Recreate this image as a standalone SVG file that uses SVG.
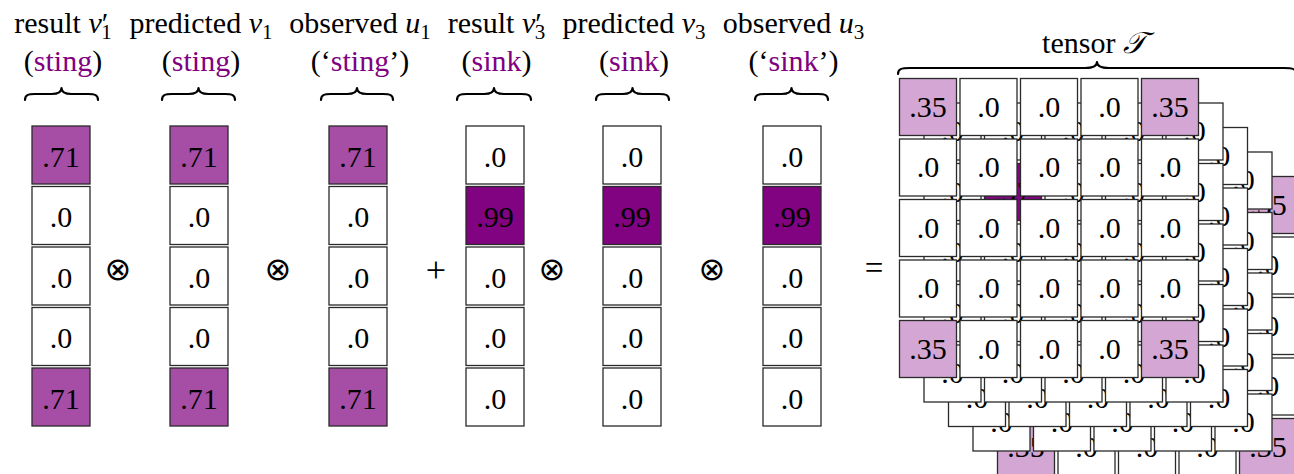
<svg xmlns="http://www.w3.org/2000/svg" width="1294" height="474" viewBox="0 0 1294 474">
<style>
text{font-family:"Liberation Serif","Times New Roman",serif;fill:#000}
.lbl{font-size:30px;text-anchor:middle}
.pu{fill:#800080}
.it{font-style:italic}
.sb{font-size:21px}
.cv{font-size:30px;text-anchor:middle}
.tv{font-size:30px;text-anchor:middle}
.pl{font-size:36px;text-anchor:middle}
.eq{font-size:33px;text-anchor:middle}
.ot{font-family:"DejaVu Sans",sans-serif;font-size:32px;text-anchor:middle}
rect{stroke:#2a2a2a;stroke-width:1.3}
.w{fill:#fff}
.p71{fill:#A64DA6}
.p99{fill:#810381}
.p97{fill:#840884}
.p35{fill:#D3A6D3}
.br{fill:none;stroke:#000;stroke-width:2.2;stroke-linecap:round;stroke-linejoin:round}
</style>

<g id="labels">
<g id="label-v1p">
<text class="lbl" x="63" y="33">result <tspan class="it">v</tspan><tspan>′</tspan><tspan class="sb" dx="-7" dy="6">1</tspan></text>
<text class="lbl" x="63" y="71">(<tspan class="pu">sting</tspan>)</text>
<path class="br" d="M25 100 C25 95 28 94 35 94 L51.5 94 C58.5 94 61.5 92 61.5 88 C61.5 92 64.5 94 71.5 94 L88 94 C95 94 98 95 98 100"/>
</g>
<g id="label-v1">
<text class="lbl" x="201" y="33">predicted <tspan class="it">v</tspan><tspan class="sb" dy="6">1</tspan></text>
<text class="lbl" x="201" y="71">(<tspan class="pu">sting</tspan>)</text>
<path class="br" d="M162 100 C162 95 165 94 172 94 L188.5 94 C195.5 94 198.5 92 198.5 88 C198.5 92 201.5 94 208.5 94 L225 94 C232 94 235 95 235 100"/>
</g>
<g id="label-u1">
<text class="lbl" x="360" y="33">observed <tspan class="it">u</tspan><tspan class="sb" dy="6">1</tspan></text>
<text class="lbl" x="360" y="71">(‘<tspan class="pu">sting</tspan>’)</text>
<path class="br" d="M321 100 C321 95 324 94 331 94 L347 94 C354 94 357 92 357 88 C357 92 360 94 367 94 L383 94 C390 94 393 95 393 100"/>
</g>
<g id="label-v3p">
<text class="lbl" x="496.5" y="33">result <tspan class="it">v</tspan><tspan>′</tspan><tspan class="sb" dx="-7" dy="6">3</tspan></text>
<text class="lbl" x="496.5" y="71">(<tspan class="pu">sink</tspan>)</text>
<path class="br" d="M457 100 C457 95 460 94 467 94 L484 94 C491 94 494 92 494 88 C494 92 497 94 504 94 L521 94 C528 94 531 95 531 100"/>
</g>
<g id="label-v3">
<text class="lbl" x="634" y="33">predicted <tspan class="it">v</tspan><tspan class="sb" dy="6">3</tspan></text>
<text class="lbl" x="634" y="71">(<tspan class="pu">sink</tspan>)</text>
<path class="br" d="M596 100 C596 95 599 94 606 94 L622.5 94 C629.5 94 632.5 92 632.5 88 C632.5 92 635.5 94 642.5 94 L659 94 C666 94 669 95 669 100"/>
</g>
<g id="label-u3">
<text class="lbl" x="793.5" y="33">observed <tspan class="it">u</tspan><tspan class="sb" dy="6">3</tspan></text>
<text class="lbl" x="793.5" y="71">(‘<tspan class="pu">sink</tspan>’)</text>
<path class="br" d="M755 100 C755 95 758 94 765 94 L781.5 94 C788.5 94 791.5 92 791.5 88 C791.5 92 794.5 94 801.5 94 L818 94 C825 94 828 95 828 100"/>
</g>
<g id="label-tensor">
<text class="lbl" x="1094" y="53">tensor <tspan class="it">𝒯</tspan></text>
<path class="br" d="M898 74 C898 69 901 68 910 68 L1085 68 C1093 68 1097 66 1097 62 C1097 66 1101 68 1109 68 L1284 68 C1293 68 1296 69 1296 74"/>
</g>
</g>

<g id="col-v1p">
<rect class="p71" x="32" y="126" width="58" height="58"/><text class="cv" x="61" y="166.5">.71</text>
<rect class="w" x="32" y="186.5" width="58" height="58"/><text class="cv" x="61" y="227">.0</text>
<rect class="w" x="32" y="247" width="58" height="58"/><text class="cv" x="61" y="287.5">.0</text>
<rect class="w" x="32" y="307.5" width="58" height="58"/><text class="cv" x="61" y="348">.0</text>
<rect class="p71" x="32" y="368" width="58" height="58"/><text class="cv" x="61" y="408.5">.71</text>
</g>
<g id="col-v1">
<rect class="p71" x="170" y="126" width="58" height="58"/><text class="cv" x="199" y="166.5">.71</text>
<rect class="w" x="170" y="186.5" width="58" height="58"/><text class="cv" x="199" y="227">.0</text>
<rect class="w" x="170" y="247" width="58" height="58"/><text class="cv" x="199" y="287.5">.0</text>
<rect class="w" x="170" y="307.5" width="58" height="58"/><text class="cv" x="199" y="348">.0</text>
<rect class="p71" x="170" y="368" width="58" height="58"/><text class="cv" x="199" y="408.5">.71</text>
</g>
<g id="col-u1">
<rect class="p71" x="329" y="126" width="58" height="58"/><text class="cv" x="358" y="166.5">.71</text>
<rect class="w" x="329" y="186.5" width="58" height="58"/><text class="cv" x="358" y="227">.0</text>
<rect class="w" x="329" y="247" width="58" height="58"/><text class="cv" x="358" y="287.5">.0</text>
<rect class="w" x="329" y="307.5" width="58" height="58"/><text class="cv" x="358" y="348">.0</text>
<rect class="p71" x="329" y="368" width="58" height="58"/><text class="cv" x="358" y="408.5">.71</text>
</g>
<g id="col-v3p">
<rect class="w" x="466" y="126" width="58" height="58"/><text class="cv" x="495" y="166.5">.0</text>
<rect class="p99" x="466" y="186.5" width="58" height="58"/><text class="cv" x="495" y="227">.99</text>
<rect class="w" x="466" y="247" width="58" height="58"/><text class="cv" x="495" y="287.5">.0</text>
<rect class="w" x="466" y="307.5" width="58" height="58"/><text class="cv" x="495" y="348">.0</text>
<rect class="w" x="466" y="368" width="58" height="58"/><text class="cv" x="495" y="408.5">.0</text>
</g>
<g id="col-v3">
<rect class="w" x="603" y="126" width="58" height="58"/><text class="cv" x="632" y="166.5">.0</text>
<rect class="p99" x="603" y="186.5" width="58" height="58"/><text class="cv" x="632" y="227">.99</text>
<rect class="w" x="603" y="247" width="58" height="58"/><text class="cv" x="632" y="287.5">.0</text>
<rect class="w" x="603" y="307.5" width="58" height="58"/><text class="cv" x="632" y="348">.0</text>
<rect class="w" x="603" y="368" width="58" height="58"/><text class="cv" x="632" y="408.5">.0</text>
</g>
<g id="col-u3">
<rect class="w" x="763" y="126" width="58" height="58"/><text class="cv" x="792" y="166.5">.0</text>
<rect class="p99" x="763" y="186.5" width="58" height="58"/><text class="cv" x="792" y="227">.99</text>
<rect class="w" x="763" y="247" width="58" height="58"/><text class="cv" x="792" y="287.5">.0</text>
<rect class="w" x="763" y="307.5" width="58" height="58"/><text class="cv" x="792" y="348">.0</text>
<rect class="w" x="763" y="368" width="58" height="58"/><text class="cv" x="792" y="408.5">.0</text>
</g>

<g id="operators">
<text class="ot" x="118" y="280">⊗</text>
<text class="ot" x="278" y="280">⊗</text>
<text class="pl" x="436" y="282">+</text>
<text class="ot" x="552" y="280">⊗</text>
<text class="ot" x="712" y="280">⊗</text>
<text class="eq" x="874" y="279">=</text>
</g>

<g id="connectors"></g>

<g id="tensor">
<g id="layer5" transform="translate(98,98)">
<rect class="p35" x="899.5" y="78.5" width="57" height="57"/><text class="tv" x="928" y="116.5">.35</text>
<rect class="w" x="960" y="78.5" width="57" height="57"/><text class="tv" x="988.5" y="116.5">.0</text>
<rect class="w" x="1020.5" y="78.5" width="57" height="57"/><text class="tv" x="1049" y="116.5">.0</text>
<rect class="w" x="1081" y="78.5" width="57" height="57"/><text class="tv" x="1109.5" y="116.5">.0</text>
<rect class="p35" x="1141.5" y="78.5" width="57" height="57"/><text class="tv" x="1170" y="116.5">.35</text>
<rect class="w" x="899.5" y="139" width="57" height="57"/><text class="tv" x="928" y="177">.0</text>
<rect class="w" x="960" y="139" width="57" height="57"/><text class="tv" x="988.5" y="177">.0</text>
<rect class="w" x="1020.5" y="139" width="57" height="57"/><text class="tv" x="1049" y="177">.0</text>
<rect class="w" x="1081" y="139" width="57" height="57"/><text class="tv" x="1109.5" y="177">.0</text>
<rect class="w" x="1141.5" y="139" width="57" height="57"/><text class="tv" x="1170" y="177">.0</text>
<rect class="w" x="899.5" y="199.5" width="57" height="57"/><text class="tv" x="928" y="237.5">.0</text>
<rect class="w" x="960" y="199.5" width="57" height="57"/><text class="tv" x="988.5" y="237.5">.0</text>
<rect class="w" x="1020.5" y="199.5" width="57" height="57"/><text class="tv" x="1049" y="237.5">.0</text>
<rect class="w" x="1081" y="199.5" width="57" height="57"/><text class="tv" x="1109.5" y="237.5">.0</text>
<rect class="w" x="1141.5" y="199.5" width="57" height="57"/><text class="tv" x="1170" y="237.5">.0</text>
<rect class="w" x="899.5" y="260" width="57" height="57"/><text class="tv" x="928" y="298">.0</text>
<rect class="w" x="960" y="260" width="57" height="57"/><text class="tv" x="988.5" y="298">.0</text>
<rect class="w" x="1020.5" y="260" width="57" height="57"/><text class="tv" x="1049" y="298">.0</text>
<rect class="w" x="1081" y="260" width="57" height="57"/><text class="tv" x="1109.5" y="298">.0</text>
<rect class="w" x="1141.5" y="260" width="57" height="57"/><text class="tv" x="1170" y="298">.0</text>
<rect class="p35" x="899.5" y="320.5" width="57" height="57"/><text class="tv" x="928" y="358.5">.35</text>
<rect class="w" x="960" y="320.5" width="57" height="57"/><text class="tv" x="988.5" y="358.5">.0</text>
<rect class="w" x="1020.5" y="320.5" width="57" height="57"/><text class="tv" x="1049" y="358.5">.0</text>
<rect class="w" x="1081" y="320.5" width="57" height="57"/><text class="tv" x="1109.5" y="358.5">.0</text>
<rect class="p35" x="1141.5" y="320.5" width="57" height="57"/><text class="tv" x="1170" y="358.5">.35</text>
</g>
<g id="layer4" transform="translate(73.5,73.5)">
<rect class="w" x="899.5" y="78.5" width="57" height="57"/><text class="tv" x="928" y="116.5">.0</text>
<rect class="w" x="960" y="78.5" width="57" height="57"/><text class="tv" x="988.5" y="116.5">.0</text>
<rect class="w" x="1020.5" y="78.5" width="57" height="57"/><text class="tv" x="1049" y="116.5">.0</text>
<rect class="w" x="1081" y="78.5" width="57" height="57"/><text class="tv" x="1109.5" y="116.5">.0</text>
<rect class="w" x="1141.5" y="78.5" width="57" height="57"/><text class="tv" x="1170" y="116.5">.0</text>
<rect class="w" x="899.5" y="139" width="57" height="57"/><text class="tv" x="928" y="177">.0</text>
<rect class="w" x="960" y="139" width="57" height="57"/><text class="tv" x="988.5" y="177">.0</text>
<rect class="w" x="1020.5" y="139" width="57" height="57"/><text class="tv" x="1049" y="177">.0</text>
<rect class="w" x="1081" y="139" width="57" height="57"/><text class="tv" x="1109.5" y="177">.0</text>
<rect class="w" x="1141.5" y="139" width="57" height="57"/><text class="tv" x="1170" y="177">.0</text>
<rect class="w" x="899.5" y="199.5" width="57" height="57"/><text class="tv" x="928" y="237.5">.0</text>
<rect class="w" x="960" y="199.5" width="57" height="57"/><text class="tv" x="988.5" y="237.5">.0</text>
<rect class="w" x="1020.5" y="199.5" width="57" height="57"/><text class="tv" x="1049" y="237.5">.0</text>
<rect class="w" x="1081" y="199.5" width="57" height="57"/><text class="tv" x="1109.5" y="237.5">.0</text>
<rect class="w" x="1141.5" y="199.5" width="57" height="57"/><text class="tv" x="1170" y="237.5">.0</text>
<rect class="w" x="899.5" y="260" width="57" height="57"/><text class="tv" x="928" y="298">.0</text>
<rect class="w" x="960" y="260" width="57" height="57"/><text class="tv" x="988.5" y="298">.0</text>
<rect class="w" x="1020.5" y="260" width="57" height="57"/><text class="tv" x="1049" y="298">.0</text>
<rect class="w" x="1081" y="260" width="57" height="57"/><text class="tv" x="1109.5" y="298">.0</text>
<rect class="w" x="1141.5" y="260" width="57" height="57"/><text class="tv" x="1170" y="298">.0</text>
<rect class="w" x="899.5" y="320.5" width="57" height="57"/><text class="tv" x="928" y="358.5">.0</text>
<rect class="w" x="960" y="320.5" width="57" height="57"/><text class="tv" x="988.5" y="358.5">.0</text>
<rect class="w" x="1020.5" y="320.5" width="57" height="57"/><text class="tv" x="1049" y="358.5">.0</text>
<rect class="w" x="1081" y="320.5" width="57" height="57"/><text class="tv" x="1109.5" y="358.5">.0</text>
<rect class="w" x="1141.5" y="320.5" width="57" height="57"/><text class="tv" x="1170" y="358.5">.0</text>
</g>
<g id="layer3" transform="translate(49,49)">
<rect class="w" x="899.5" y="78.5" width="57" height="57"/><text class="tv" x="928" y="116.5">.0</text>
<rect class="w" x="960" y="78.5" width="57" height="57"/><text class="tv" x="988.5" y="116.5">.0</text>
<rect class="w" x="1020.5" y="78.5" width="57" height="57"/><text class="tv" x="1049" y="116.5">.0</text>
<rect class="w" x="1081" y="78.5" width="57" height="57"/><text class="tv" x="1109.5" y="116.5">.0</text>
<rect class="w" x="1141.5" y="78.5" width="57" height="57"/><text class="tv" x="1170" y="116.5">.0</text>
<rect class="w" x="899.5" y="139" width="57" height="57"/><text class="tv" x="928" y="177">.0</text>
<rect class="w" x="960" y="139" width="57" height="57"/><text class="tv" x="988.5" y="177">.0</text>
<rect class="w" x="1020.5" y="139" width="57" height="57"/><text class="tv" x="1049" y="177">.0</text>
<rect class="w" x="1081" y="139" width="57" height="57"/><text class="tv" x="1109.5" y="177">.0</text>
<rect class="w" x="1141.5" y="139" width="57" height="57"/><text class="tv" x="1170" y="177">.0</text>
<rect class="w" x="899.5" y="199.5" width="57" height="57"/><text class="tv" x="928" y="237.5">.0</text>
<rect class="w" x="960" y="199.5" width="57" height="57"/><text class="tv" x="988.5" y="237.5">.0</text>
<rect class="w" x="1020.5" y="199.5" width="57" height="57"/><text class="tv" x="1049" y="237.5">.0</text>
<rect class="w" x="1081" y="199.5" width="57" height="57"/><text class="tv" x="1109.5" y="237.5">.0</text>
<rect class="w" x="1141.5" y="199.5" width="57" height="57"/><text class="tv" x="1170" y="237.5">.0</text>
<rect class="w" x="899.5" y="260" width="57" height="57"/><text class="tv" x="928" y="298">.0</text>
<rect class="w" x="960" y="260" width="57" height="57"/><text class="tv" x="988.5" y="298">.0</text>
<rect class="w" x="1020.5" y="260" width="57" height="57"/><text class="tv" x="1049" y="298">.0</text>
<rect class="w" x="1081" y="260" width="57" height="57"/><text class="tv" x="1109.5" y="298">.0</text>
<rect class="w" x="1141.5" y="260" width="57" height="57"/><text class="tv" x="1170" y="298">.0</text>
<rect class="w" x="899.5" y="320.5" width="57" height="57"/><text class="tv" x="928" y="358.5">.0</text>
<rect class="w" x="960" y="320.5" width="57" height="57"/><text class="tv" x="988.5" y="358.5">.0</text>
<rect class="w" x="1020.5" y="320.5" width="57" height="57"/><text class="tv" x="1049" y="358.5">.0</text>
<rect class="w" x="1081" y="320.5" width="57" height="57"/><text class="tv" x="1109.5" y="358.5">.0</text>
<rect class="w" x="1141.5" y="320.5" width="57" height="57"/><text class="tv" x="1170" y="358.5">.0</text>
</g>
<g id="layer2" transform="translate(24.5,24.5)">
<rect class="w" x="899.5" y="78.5" width="57" height="57"/><text class="tv" x="928" y="116.5">.0</text>
<rect class="w" x="960" y="78.5" width="57" height="57"/><text class="tv" x="988.5" y="116.5">.0</text>
<rect class="w" x="1020.5" y="78.5" width="57" height="57"/><text class="tv" x="1049" y="116.5">.0</text>
<rect class="w" x="1081" y="78.5" width="57" height="57"/><text class="tv" x="1109.5" y="116.5">.0</text>
<rect class="w" x="1141.5" y="78.5" width="57" height="57"/><text class="tv" x="1170" y="116.5">.0</text>
<rect class="w" x="899.5" y="139" width="57" height="57"/><text class="tv" x="928" y="177">.0</text>
<rect class="p97" x="960" y="139" width="57" height="57"/><text class="tv" x="988.5" y="177">.97</text>
<rect class="w" x="1020.5" y="139" width="57" height="57"/><text class="tv" x="1049" y="177">.0</text>
<rect class="w" x="1081" y="139" width="57" height="57"/><text class="tv" x="1109.5" y="177">.0</text>
<rect class="w" x="1141.5" y="139" width="57" height="57"/><text class="tv" x="1170" y="177">.0</text>
<rect class="w" x="899.5" y="199.5" width="57" height="57"/><text class="tv" x="928" y="237.5">.0</text>
<rect class="w" x="960" y="199.5" width="57" height="57"/><text class="tv" x="988.5" y="237.5">.0</text>
<rect class="w" x="1020.5" y="199.5" width="57" height="57"/><text class="tv" x="1049" y="237.5">.0</text>
<rect class="w" x="1081" y="199.5" width="57" height="57"/><text class="tv" x="1109.5" y="237.5">.0</text>
<rect class="w" x="1141.5" y="199.5" width="57" height="57"/><text class="tv" x="1170" y="237.5">.0</text>
<rect class="w" x="899.5" y="260" width="57" height="57"/><text class="tv" x="928" y="298">.0</text>
<rect class="w" x="960" y="260" width="57" height="57"/><text class="tv" x="988.5" y="298">.0</text>
<rect class="w" x="1020.5" y="260" width="57" height="57"/><text class="tv" x="1049" y="298">.0</text>
<rect class="w" x="1081" y="260" width="57" height="57"/><text class="tv" x="1109.5" y="298">.0</text>
<rect class="w" x="1141.5" y="260" width="57" height="57"/><text class="tv" x="1170" y="298">.0</text>
<rect class="w" x="899.5" y="320.5" width="57" height="57"/><text class="tv" x="928" y="358.5">.0</text>
<rect class="w" x="960" y="320.5" width="57" height="57"/><text class="tv" x="988.5" y="358.5">.0</text>
<rect class="w" x="1020.5" y="320.5" width="57" height="57"/><text class="tv" x="1049" y="358.5">.0</text>
<rect class="w" x="1081" y="320.5" width="57" height="57"/><text class="tv" x="1109.5" y="358.5">.0</text>
<rect class="w" x="1141.5" y="320.5" width="57" height="57"/><text class="tv" x="1170" y="358.5">.0</text>
</g>
<g id="layer1">
<rect class="p35" x="899.5" y="78.5" width="57" height="57"/><text class="tv" x="928" y="116.5">.35</text>
<rect class="w" x="960" y="78.5" width="57" height="57"/><text class="tv" x="988.5" y="116.5">.0</text>
<rect class="w" x="1020.5" y="78.5" width="57" height="57"/><text class="tv" x="1049" y="116.5">.0</text>
<rect class="w" x="1081" y="78.5" width="57" height="57"/><text class="tv" x="1109.5" y="116.5">.0</text>
<rect class="p35" x="1141.5" y="78.5" width="57" height="57"/><text class="tv" x="1170" y="116.5">.35</text>
<rect class="w" x="899.5" y="139" width="57" height="57"/><text class="tv" x="928" y="177">.0</text>
<rect class="w" x="960" y="139" width="57" height="57"/><text class="tv" x="988.5" y="177">.0</text>
<rect class="w" x="1020.5" y="139" width="57" height="57"/><text class="tv" x="1049" y="177">.0</text>
<rect class="w" x="1081" y="139" width="57" height="57"/><text class="tv" x="1109.5" y="177">.0</text>
<rect class="w" x="1141.5" y="139" width="57" height="57"/><text class="tv" x="1170" y="177">.0</text>
<rect class="w" x="899.5" y="199.5" width="57" height="57"/><text class="tv" x="928" y="237.5">.0</text>
<rect class="w" x="960" y="199.5" width="57" height="57"/><text class="tv" x="988.5" y="237.5">.0</text>
<rect class="w" x="1020.5" y="199.5" width="57" height="57"/><text class="tv" x="1049" y="237.5">.0</text>
<rect class="w" x="1081" y="199.5" width="57" height="57"/><text class="tv" x="1109.5" y="237.5">.0</text>
<rect class="w" x="1141.5" y="199.5" width="57" height="57"/><text class="tv" x="1170" y="237.5">.0</text>
<rect class="w" x="899.5" y="260" width="57" height="57"/><text class="tv" x="928" y="298">.0</text>
<rect class="w" x="960" y="260" width="57" height="57"/><text class="tv" x="988.5" y="298">.0</text>
<rect class="w" x="1020.5" y="260" width="57" height="57"/><text class="tv" x="1049" y="298">.0</text>
<rect class="w" x="1081" y="260" width="57" height="57"/><text class="tv" x="1109.5" y="298">.0</text>
<rect class="w" x="1141.5" y="260" width="57" height="57"/><text class="tv" x="1170" y="298">.0</text>
<rect class="p35" x="899.5" y="320.5" width="57" height="57"/><text class="tv" x="928" y="358.5">.35</text>
<rect class="w" x="960" y="320.5" width="57" height="57"/><text class="tv" x="988.5" y="358.5">.0</text>
<rect class="w" x="1020.5" y="320.5" width="57" height="57"/><text class="tv" x="1049" y="358.5">.0</text>
<rect class="w" x="1081" y="320.5" width="57" height="57"/><text class="tv" x="1109.5" y="358.5">.0</text>
<rect class="p35" x="1141.5" y="320.5" width="57" height="57"/><text class="tv" x="1170" y="358.5">.35</text>
</g>
</g>
</svg>
